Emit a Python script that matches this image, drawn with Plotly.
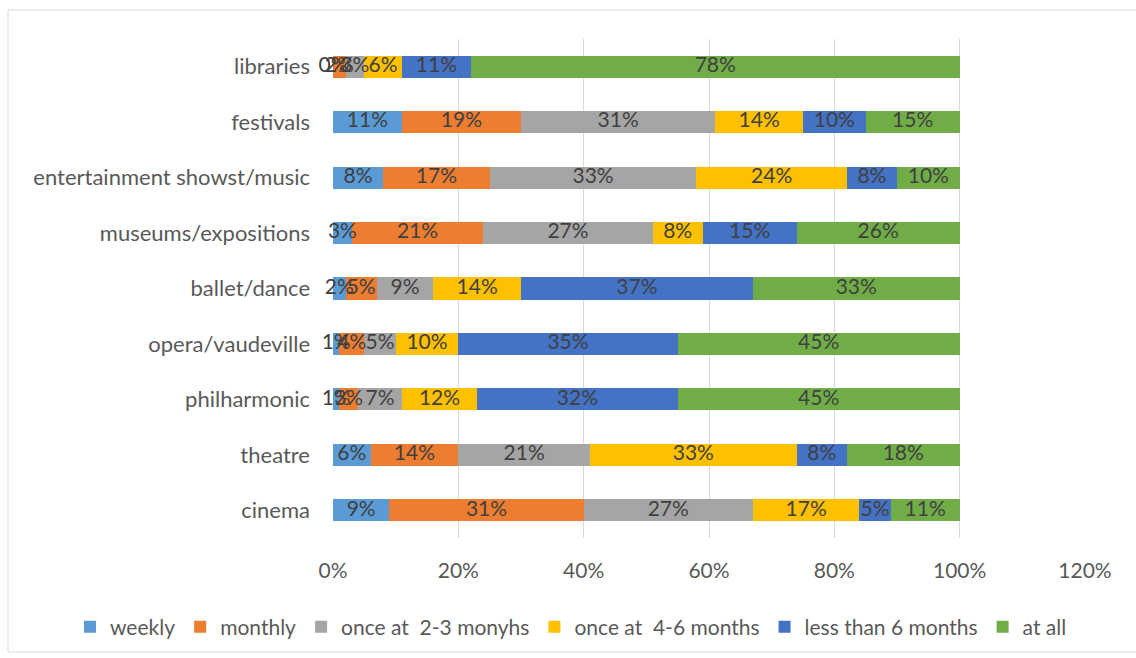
import plotly.graph_objects as go

# Venues, listed bottom to top
categories = ["cinema", "theatre", "philharmonic", "opera/vaudeville", "ballet/dance",
              "museums/expositions", "entertainment showst/music", "festivals", "libraries"]

series_names = ["weekly", "monthly", "once at  2-3 monyhs", "once at  4-6 months",
                "less than 6 months", "at all"]

weekly = [9, 6, 1, 1, 2, 3, 8, 11, 0]
monthly = [31, 14, 3, 4, 5, 21, 17, 19, 2]
once_2_3 = [27, 21, 7, 5, 9, 27, 33, 31, 3]
once_4_6 = [17, 33, 12, 10, 14, 8, 24, 14, 6]
less_6 = [5, 8, 32, 35, 37, 15, 8, 10, 11]
at_all = [11, 18, 45, 45, 33, 26, 10, 15, 78]

x_ticks = [0, 0.2, 0.4, 0.6, 0.8, 1.0, 1.2]
x_tick_labels = ["0%", "20%", "40%", "60%", "80%", "100%", "120%"]

colors = ["#5B9BD5", "#ED7D31", "#A5A5A5", "#FFC000", "#4472C4", "#70AD47"]
all_series = [weekly, monthly, once_2_3, once_4_6, less_6, at_all]

FONT = "Lato, Calibri, Carlito, sans-serif"
TEXT = "#595959"

fig = go.Figure()

# stacked bars
for name, vals, col in zip(series_names, all_series, colors):
    fig.add_trace(go.Bar(
        y=categories,
        x=[v / 100 for v in vals],
        name=name,
        orientation="h",
        marker=dict(color=col, line=dict(width=0)),
        textposition="none",
        hoverinfo="skip",
    ))

# value labels centred on each segment, drawn above all bars
offset = [0] * len(categories)
for vals in all_series:
    centers = [(o + v / 2) / 100 for o, v in zip(offset, vals)]
    fig.add_trace(go.Scatter(
        x=centers,
        y=categories,
        mode="text",
        text=[f"{v}%" for v in vals],
        textposition="middle center",
        textfont=dict(family=FONT, size=21, color="#404040"),
        showlegend=False,
        hoverinfo="skip",
        cliponaxis=False,
    ))
    offset = [o + v for o, v in zip(offset, vals)]

W, H = 1136, 658
ml, mr, mt, mb = 333, 51, 39, 120
pw = W - ml - mr
ph = H - mt - mb

fig.update_layout(
    width=W, height=H,
    barmode="stack",
    bargap=0.6,
    margin=dict(l=ml, r=mr, t=mt, b=mb, autoexpand=False),
    paper_bgcolor="white",
    plot_bgcolor="white",
    font=dict(family=FONT, size=21, color=TEXT),
    xaxis=dict(
        range=[0, 1.2],
        tickvals=x_ticks,
        ticktext=x_tick_labels,
        showgrid=True,
        gridcolor="#D9D9D9",
        gridwidth=1,
        zeroline=False,
        showline=False,
        ticks="",
        ticklabelstandoff=18,
        tickfont=dict(family=FONT, size=21, color=TEXT),
        fixedrange=True,
    ),
    yaxis=dict(
        categoryorder="array",
        categoryarray=categories,
        showgrid=False,
        showline=False,
        ticks="",
        ticklabelstandoff=22,
        tickfont=dict(family=FONT, size=22, color=TEXT),
        fixedrange=True,
    ),
    legend=dict(
        orientation="h",
        x=(70 - ml) / pw,
        xanchor="left",
        y=(mt + ph - 627) / ph,
        yanchor="middle",
        font=dict(family=FONT, size=21, color=TEXT),
        itemwidth=30,
        traceorder="normal",
        bgcolor="rgba(0,0,0,0)",
    ),
    shapes=[dict(
        type="rect", xref="paper", yref="paper",
        x0=(8 - ml) / pw, x1=(1140 - ml) / pw,
        y0=(mt + ph - 652) / ph, y1=(mt + ph - 10) / ph,
        line=dict(color="#D9D9D9", width=1),
        fillcolor="rgba(0,0,0,0)",
        layer="below",
    )],
    showlegend=True,
)

fig.write_html("out.html")
